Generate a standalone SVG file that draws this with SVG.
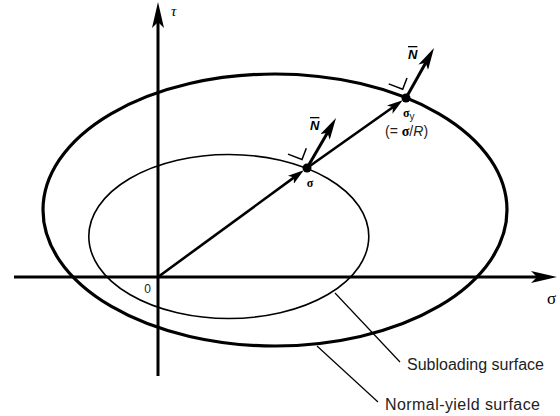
<svg xmlns="http://www.w3.org/2000/svg" width="560" height="416" viewBox="0 0 560 416">
  <style>
    .axis { stroke: #000; stroke-width: 3; fill: none; }
    .thick { stroke: #000; stroke-width: 3.2; fill: none; }
    .thin { stroke: #000; stroke-width: 1.6; fill: none; }
    .radial { stroke: #000; stroke-width: 2.6; fill: none; }
    .normal { stroke: #000; stroke-width: 3; fill: none; }
    .leader { stroke: #000; stroke-width: 1.2; fill: none; }
    .ra { stroke: #000; stroke-width: 1.5; fill: none; }
    .sans { font-family: "Liberation Sans", Arial, sans-serif; fill: #222; }
    .serif { font-family: "Liberation Serif", "Times New Roman", serif; fill: #000; }
    .nlab { font-family: "Liberation Sans", Arial, sans-serif; font-weight: bold; font-style: italic; font-size: 13px; text-decoration: overline; fill: #000; }
  </style>
  <defs>
    <marker id="axhead" markerUnits="userSpaceOnUse" markerWidth="26" markerHeight="12" refX="18" refY="6" orient="auto">
      <path d="M0,0 L26,6 L0,12 L6,6 z" fill="#000"/>
    </marker>
    <marker id="radhead" markerUnits="userSpaceOnUse" markerWidth="16" markerHeight="10" refX="10" refY="5" orient="auto">
      <path d="M0,0 L16,5 L0,10 L4,5 z" fill="#000"/>
    </marker>
    <marker id="nhead" markerUnits="userSpaceOnUse" markerWidth="22" markerHeight="11" refX="14" refY="5.5" orient="auto">
      <path d="M0,0 L22,5.5 L0,11 L5,5.5 z" fill="#000"/>
    </marker>
  </defs>

  <g id="axes">
    <line class="axis" x1="14" y1="277" x2="549" y2="277" marker-end="url(#axhead)"/>
    <line class="axis" x1="158" y1="376" x2="158" y2="10" marker-end="url(#axhead)"/>
    <text class="serif" x="171" y="16" font-size="15" font-style="italic">τ</text>
    <text class="serif" x="547" y="304" font-size="17">σ</text>
    <text class="sans" x="147.5" y="293" font-size="12" text-anchor="middle">0</text>
  </g>

  <g id="normal-yield-surface">
    <ellipse class="thick" cx="275" cy="210" rx="232" ry="136"/>
  </g>

  <g id="subloading-surface">
    <ellipse class="thin" cx="228.8" cy="236.5" rx="140" ry="82"/>
  </g>

  <g id="connectors">
    <line class="radial" x1="158" y1="277" x2="298.9" y2="173.9" marker-end="url(#radhead)"/>
    <line class="radial" x1="307" y1="168" x2="397.8" y2="103.8" marker-end="url(#radhead)"/>
    <line class="normal" x1="307" y1="168" x2="332" y2="124.9" marker-end="url(#nhead)"/>
    <line class="normal" x1="406" y1="98" x2="430.1" y2="55" marker-end="url(#nhead)"/>
    <polyline class="ra" points="288,154.1 302,159.5 306.3,148.3"/>
    <polyline class="ra" points="388.7,83.9 402.7,89.3 407,78.1"/>
    <line class="leader" x1="335" y1="293" x2="400" y2="362"/>
    <line class="leader" x1="317" y1="346" x2="378" y2="402"/>
  </g>

  <g id="point-sigma">
    <circle cx="307" cy="168" r="4.5" fill="#000"/>
    <text class="serif" x="310" y="187" font-size="12" font-weight="bold" text-anchor="middle">σ</text>
    <text class="nlab" x="310" y="130">N</text>
  </g>

  <g id="point-sigma-y">
    <circle cx="406" cy="98" r="4.5" fill="#000"/>
    <text class="serif" x="403" y="117" font-size="12" font-weight="bold">σ<tspan class="sans" font-size="10" font-weight="normal" dy="3">y</tspan></text>
    <text class="sans" x="385" y="136" font-size="14">(= <tspan class="serif" font-weight="bold">σ</tspan>/<tspan font-style="italic">R</tspan>)</text>
    <text class="nlab" x="408" y="59">N</text>
  </g>

  <g id="label-subloading">
    <text class="sans" x="407" y="370" font-size="16">Subloading surface</text>
  </g>
  <g id="label-normal-yield">
    <text class="sans" x="385" y="410" font-size="16" textLength="155" lengthAdjust="spacing">Normal-yield surface</text>
  </g>
</svg>
